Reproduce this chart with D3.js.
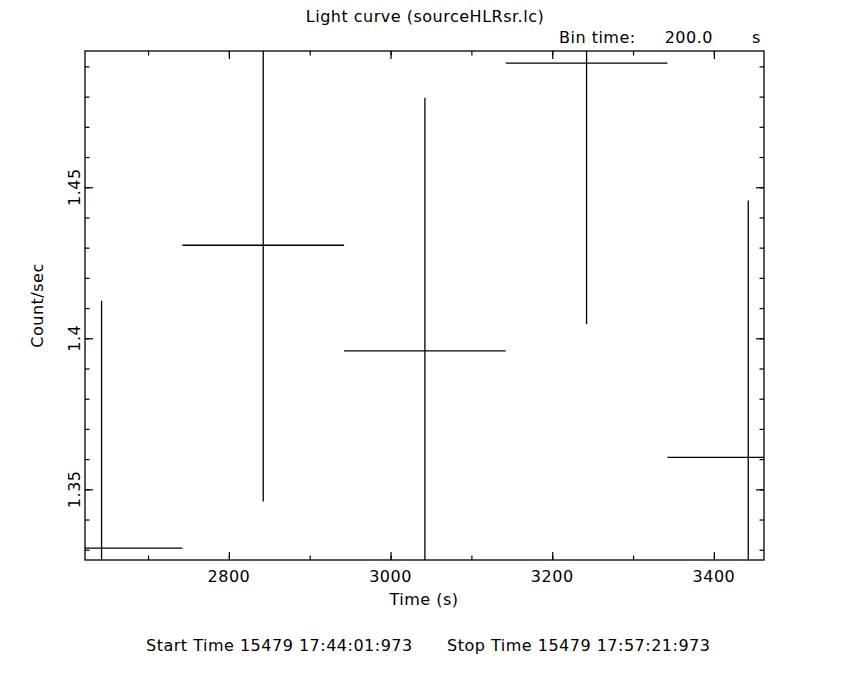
<!DOCTYPE html>
<html>
<head>
<meta charset="utf-8">
<script src="https://cdn.jsdelivr.net/npm/d3@7"></script>
<style>
body { margin: 0; background: white; }
text { font-family: "DejaVu Sans", sans-serif; fill: black; font-size: 16px; letter-spacing: 0.5px; }
</style>
</head>
<body>
<div id="canvas"></div>
<script>
var w = 850;
var h = 680;

// bin centres (s), count rate and 1-sigma error
var times = [2642.5, 2842.5, 3042.5, 3242.5, 3442.5];
var rates = [1.3305, 1.4308, 1.3958, 1.4911, 1.3606];
var errors = [0.0819, 0.0848, 0.0838, 0.0864, 0.0850];
var binTime = 200;

var xTicks = [2800, 3000, 3200, 3400];
var yTicks = [1.35, 1.4, 1.45];

var plotL = 85, plotR = 764, plotT = 51, plotB = 560;

var canvas = d3.select("#canvas")
    .append("svg")
    .attr("width", w)
    .attr("height", h)
    .style("background-color", "white");

var xScale = d3.scaleLinear()
    .domain([2622, 3462])
    .range([plotL, plotR]);

var yScale = d3.scaleLinear()
    .domain([1.3266, 1.4951])
    .range([plotB, plotT]);

var xMinor = d3.range(2700, 3462, 100);
var yMinor = d3.range(1.33, 1.495, 0.01);

function tickAxis(axis, values, size) {
    return axis.tickValues(values).tickSize(size).tickSizeOuter(0).tickFormat("");
}

var axes = [
    [d3.axisBottom, xScale, `translate(0,${plotB})`, xTicks, xMinor],
    [d3.axisTop, xScale, `translate(0,${plotT})`, xTicks, xMinor],
    [d3.axisLeft, yScale, `translate(${plotL},0)`, yTicks, yMinor],
    [d3.axisRight, yScale, `translate(${plotR},0)`, yTicks, yMinor]
];

axes.forEach(function(a) {
    var g = canvas.append("g").attr("transform", a[2]);
    g.append("g").call(tickAxis(a[0](a[1]), a[4], -4.5));
    g.append("g").call(tickAxis(a[0](a[1]), a[3], -8));
    g.selectAll("path.domain").remove();
    g.selectAll("line").attr("stroke", "black").attr("stroke-width", 1.2);
});

canvas.append("rect")
    .attr("x", plotL)
    .attr("y", plotT)
    .attr("width", plotR - plotL)
    .attr("height", plotB - plotT)
    .attr("fill", "none")
    .attr("stroke", "black")
    .attr("stroke-width", 1.3);

canvas.append("clipPath")
    .attr("id", "plot")
    .append("rect")
    .attr("x", plotL)
    .attr("y", plotT)
    .attr("width", plotR - plotL)
    .attr("height", plotB - plotT);

var points = times.map(function(t, i) {
    return { time: t, rate: rates[i], err: errors[i] };
});

var marks = canvas.append("g").attr("clip-path", "url(#plot)");

marks.selectAll("line.hbar")
    .data(points)
    .join("line")
    .attr("class", "hbar")
    .attr("x1", d => xScale(d.time - binTime / 2))
    .attr("x2", d => xScale(d.time + binTime / 2))
    .attr("y1", d => yScale(d.rate))
    .attr("y2", d => yScale(d.rate))
    .attr("stroke", "black")
    .attr("stroke-width", 1.3);

marks.selectAll("line.vbar")
    .data(points)
    .join("line")
    .attr("class", "vbar")
    .attr("x1", d => xScale(d.time))
    .attr("x2", d => xScale(d.time))
    .attr("y1", d => yScale(d.rate - d.err))
    .attr("y2", d => yScale(d.rate + d.err))
    .attr("stroke", "black")
    .attr("stroke-width", 1.3);

canvas.selectAll("text.xlab")
    .data(xTicks)
    .join("text")
    .attr("class", "xlab")
    .attr("x", d => xScale(d))
    .attr("y", 582)
    .attr("text-anchor", "middle")
    .text(d => d);

canvas.selectAll("text.ylab")
    .data(yTicks)
    .join("text")
    .attr("class", "ylab")
    .attr("transform", d => `translate(80,${yScale(d)}) rotate(-90)`)
    .attr("text-anchor", "middle")
    .text(d => d);

canvas.append("text")
    .attr("x", 424)
    .attr("y", 605)
    .attr("text-anchor", "middle")
    .text("Time (s)");

canvas.append("text")
    .attr("transform", `translate(43,${(plotT + plotB) / 2}) rotate(-90)`)
    .attr("text-anchor", "middle")
    .text("Count/sec");

canvas.append("text")
    .attr("x", 425)
    .attr("y", 22)
    .attr("text-anchor", "middle")
    .text("Light curve (sourceHLRsr.lc)");

canvas.append("text").attr("x", 559).attr("y", 43).text("Bin time:");
canvas.append("text").attr("x", 713).attr("y", 43).attr("text-anchor", "end").text("200.0");
canvas.append("text").attr("x", 752).attr("y", 43).text("s");

canvas.append("text").attr("x", 146).attr("y", 651)
    .text("Start Time 15479 17:44:01:973");
canvas.append("text").attr("x", 447).attr("y", 651)
    .text("Stop Time 15479 17:57:21:973");
</script>
</body>
</html>
